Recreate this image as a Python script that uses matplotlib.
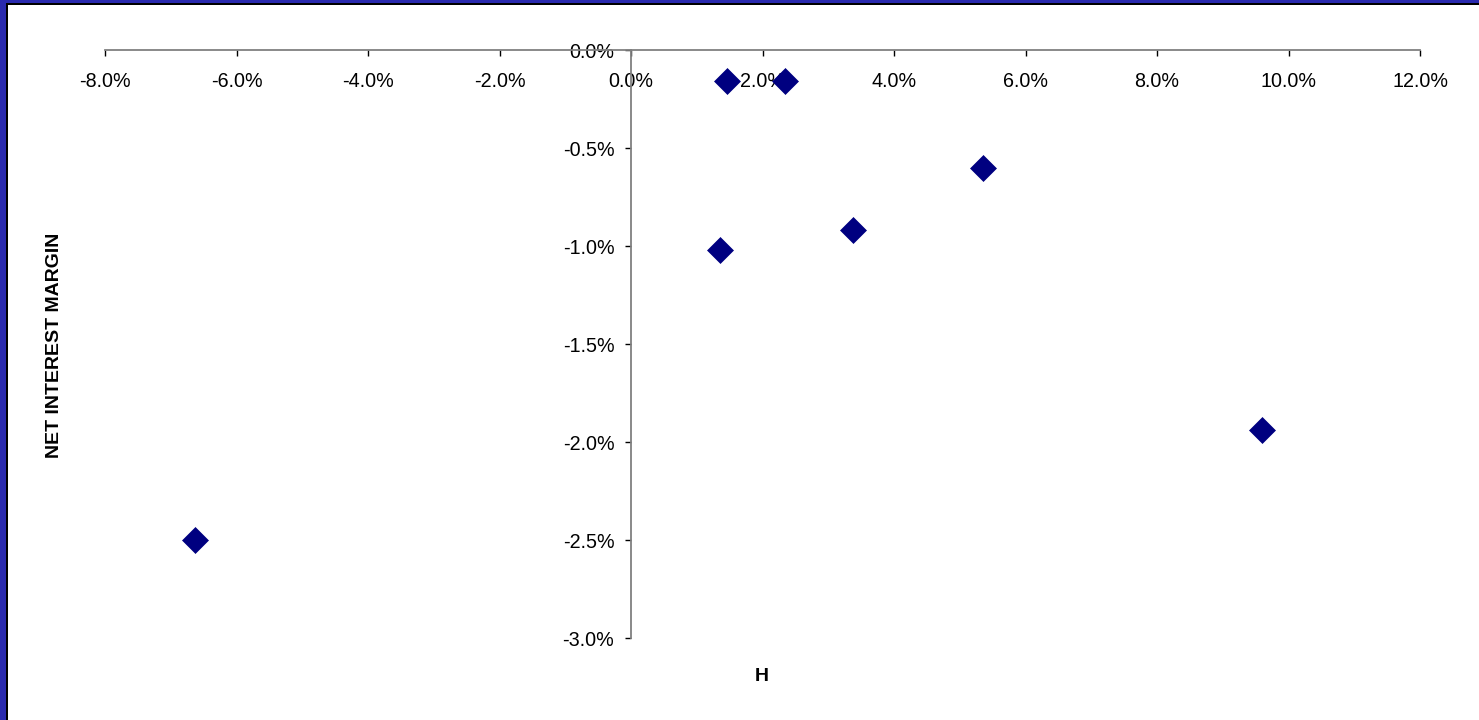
import matplotlib
matplotlib.use("Agg")
import matplotlib.pyplot as plt
from matplotlib.patches import Rectangle
from matplotlib.ticker import FuncFormatter, MultipleLocator

plt.rcParams['font.family'] = ['Liberation Sans', 'DejaVu Sans']

# H (x) against net interest margin (y), both in percent
h_values = [-6.63, 1.46, 2.34, 1.35, 3.38, 5.35, 9.60]
nim_values = [-2.50, -0.16, -0.16, -1.02, -0.92, -0.60, -1.94]

x_label = "H"
y_label = "NET INTEREST MARGIN"

W, H = 1479, 720
fig = plt.figure(figsize=(W / 100, H / 100), dpi=100)
fig.patch.set_facecolor("white")

# Slide-style frame along the left and top edges
frame_blue = "#2A2AAE"
fig.add_artist(Rectangle((0, 0), 6 / W, 1, transform=fig.transFigure,
                         facecolor=frame_blue, edgecolor="none", zorder=0))
fig.add_artist(Rectangle((0, 1 - 3 / H), 1, 3 / H, transform=fig.transFigure,
                         facecolor=frame_blue, edgecolor="none", zorder=0))
fig.add_artist(Rectangle((6 / W, 0), 1.6 / W, 1 - 3 / H, transform=fig.transFigure,
                         facecolor="black", edgecolor="none", zorder=0))
fig.add_artist(Rectangle((6 / W, 1 - 4.6 / H), 1 - 6 / W, 1.6 / H, transform=fig.transFigure,
                         facecolor="black", edgecolor="none", zorder=0))

ax = fig.add_axes([105 / W, 82 / H, 1315 / W, 588 / H])
ax.set_facecolor("none")

ax.scatter(h_values, nim_values, marker="D", s=13.2 ** 2, color="#000080",
           edgecolors="#000080", linewidths=0.5, zorder=3, clip_on=False)

ax.set_xlim(-8, 12)
ax.set_ylim(-3, 0)

for side in ("top", "right"):
    ax.spines[side].set_visible(False)
ax.spines["bottom"].set_position(("data", 0))
ax.spines["left"].set_position(("data", 0))
for side in ("bottom", "left"):
    ax.spines[side].set_color("#808080")
    ax.spines[side].set_linewidth(1.3)

ax.xaxis.set_major_locator(MultipleLocator(2))
ax.yaxis.set_major_locator(MultipleLocator(0.5))
pct = FuncFormatter(lambda v, _: f"{v:.1f}%")
ax.xaxis.set_major_formatter(pct)
ax.yaxis.set_major_formatter(pct)

ax.tick_params(axis="x", direction="out", length=4, width=1, color="black",
               labelsize=14.2, pad=11.5)
ax.tick_params(axis="y", direction="out", length=4, width=1, color="black",
               labelsize=14.2, pad=8)

fig.text(762 / W, 1 - 681 / H, x_label, ha="center", va="baseline",
         fontsize=14, fontweight="bold")
fig.text(55 / W, 1 - 345 / H, y_label, ha="center", va="center",
         rotation=90, fontsize=14, fontweight="bold")

fig.savefig("out.png", dpi=100)
